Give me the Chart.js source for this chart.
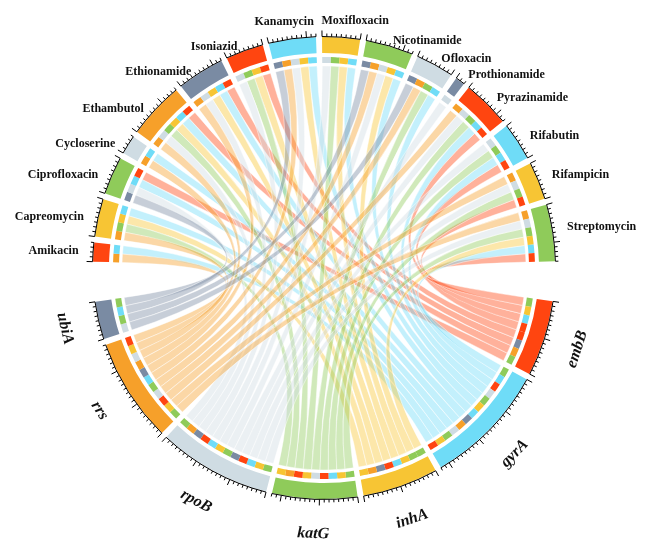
<!DOCTYPE html>
<html><head><meta charset="utf-8">
<script src="https://cdn.jsdelivr.net/npm/chart.js@4.4.1/dist/chart.umd.min.js"></script>
<style>html,body{margin:0;padding:0;background:#fff;}#wrap{width:651px;height:560px;}</style>
</head><body><div id="wrap"><canvas id="c" width="651" height="560"></canvas></div>
<script>
// ---- data ----
const genes = ['embB','gyrA','inhA','katG','rpoB','rrs','ubiA'];           // clockwise order
const geneColors = ['#FF4510','#6FDCF7','#F7C534','#8FCB5A','#CFDCE3','#F6A02A','#7A8BA3'];
const drugs = ['Amikacin','Capreomycin','Ciprofloxacin','Cycloserine','Ethambutol','Ethionamide',
  'Isoniazid','Kanamycin','Moxifloxacin','Nicotinamide','Ofloxacin','Prothionamide',
  'Pyrazinamide','Rifabutin','Rifampicin','Streptomycin'];
const drugColors = ['#FF4510','#F7C534','#8FCB5A','#CFDCE3','#F6A02A','#7A8BA3','#FF4510','#6FDCF7',
  '#F7C534','#8FCB5A','#CFDCE3','#7A8BA3','#FF4510','#6FDCF7','#F7C534','#8FCB5A'];
// drugs linked to each gene (each link has value 1)
const geneLinks = {
  embB: ['Ciprofloxacin','Ethambutol','Ethionamide','Isoniazid','Pyrazinamide','Rifabutin','Rifampicin','Streptomycin'],
  gyrA: ['Amikacin','Capreomycin','Ciprofloxacin','Cycloserine','Ethambutol','Ethionamide','Kanamycin','Moxifloxacin','Nicotinamide','Ofloxacin','Pyrazinamide','Rifabutin','Streptomycin'],
  inhA: ['Capreomycin','Ethambutol','Ethionamide','Isoniazid','Kanamycin','Moxifloxacin','Nicotinamide','Streptomycin'],
  katG: ['Capreomycin','Ethambutol','Isoniazid','Moxifloxacin','Ofloxacin','Pyrazinamide','Rifabutin','Rifampicin','Streptomycin'],
  rpoB: ['Ciprofloxacin','Ethambutol','Ethionamide','Isoniazid','Kanamycin','Moxifloxacin','Nicotinamide','Prothionamide','Pyrazinamide','Rifabutin','Rifampicin','Streptomycin'],
  rrs:  ['Amikacin','Capreomycin','Cycloserine','Ethambutol','Ethionamide','Kanamycin','Nicotinamide','Ofloxacin','Pyrazinamide','Rifampicin','Streptomycin'],
  ubiA: ['Ciprofloxacin','Kanamycin','Nicotinamide','Ofloxacin']
};
const linkValue = 1;

// ---- layout constants ----
const SMALL_GAP = 0.63, BIG_GAP = 4.2;
const MAJOR_STEP = 4, MINOR_STEP = 0.5;

// ---- build sectors ----
const sectors = genes.map((g,i)=>({name:g,color:geneColors[i],gene:true}))
  .concat(drugs.map((d,i)=>({name:d,color:drugColors[i],gene:false})));
const idx = {}; sectors.forEach((s,i)=>idx[s.name]=i);
const pairs = [];
genes.forEach(g=>geneLinks[g].forEach(d=>pairs.push({g,d,v:linkValue})));
sectors.forEach((s,k)=>{
  s.links = pairs.filter(p=>s.gene? p.g===s.name : p.d===s.name)
    .map(p=>({p, partner: s.gene? p.d : p.g}))
    .sort((a,b)=>idx[b.partner]-idx[a.partner]);
  s.total = s.links.reduce((a,l)=>a+l.p.v,0);
});
const blockData=[], blockCol=[], tileData=[], tileCol=[];
const T='rgba(0,0,0,0)';
sectors.forEach((s,k)=>{
  s.blockIndex = blockData.length;
  blockData.push(s.total); blockCol.push(s.color);
  s.links.forEach(l=>{
    if(s.gene) l.p.gTile = tileData.length; else l.p.dTile = tileData.length;
    tileData.push(l.p.v); tileCol.push(sectors[idx[l.partner]].color);
  });
  const gap = (s.name==='ubiA'||s.name==='Streptomycin')?BIG_GAP:SMALL_GAP;
  blockData.push(gap); blockCol.push(T); tileData.push(gap); tileCol.push(T);
});

function hexA(h,a){const n=parseInt(h.slice(1),16);return `rgba(${n>>16},${(n>>8)&255},${n&255},${a})`;}

const chordPlugin = {
  id:'chord',
  afterDatasetsDraw(chart){
    const ctx = chart.ctx;
    const bm = chart.getDatasetMeta(0), tm = chart.getDatasetMeta(2);
    const a0 = tm.data[0]; const cx=a0.x, cy=a0.y;
    const rL = tm.controller.innerRadius - 3;
    const P = a=>[cx+rL*Math.cos(a), cy+rL*Math.sin(a)];
    ctx.save();
    // ribbons
    genes.forEach((g,gi)=>{
      const gc = geneColors[gi];
      pairs.filter(p=>p.g===g).forEach(p=>{
        const A = tm.data[p.dTile], B = tm.data[p.gTile];
        ctx.beginPath();
        const s1=P(A.startAngle); ctx.moveTo(s1[0],s1[1]);
        ctx.arc(cx,cy,rL,A.startAngle,A.endAngle);
        const b1=P(B.startAngle); ctx.quadraticCurveTo(cx,cy,b1[0],b1[1]);
        ctx.arc(cx,cy,rL,B.startAngle,B.endAngle);
        ctx.quadraticCurveTo(cx,cy,s1[0],s1[1]);
        ctx.closePath();
        ctx.fillStyle = hexA(gc,0.42); ctx.fill();
        ctx.strokeStyle='rgba(255,255,255,0.75)'; ctx.lineWidth=0.6; ctx.stroke();
      });
    });
    // axes + ticks
    ctx.strokeStyle='#000'; ctx.lineWidth=1;
    sectors.forEach(s=>{
      const el = bm.data[s.blockIndex];
      const R = el.outerRadius + 0.5;
      ctx.beginPath(); ctx.arc(cx,cy,R,el.startAngle,el.endAngle); ctx.stroke();
      const per = (el.endAngle-el.startAngle)/s.total;
      const nT = Math.round(s.total/MINOR_STEP);
      for(let i=0;i<=nT;i++){
        const t=i*MINOR_STEP; if(t>s.total+1e-6) break;
        const major = Math.abs(t/MAJOR_STEP - Math.round(t/MAJOR_STEP))<1e-6;
        const a = el.startAngle + t*per, L = major?6:3;
        ctx.beginPath();
        ctx.moveTo(cx+R*Math.cos(a), cy+R*Math.sin(a));
        ctx.lineTo(cx+(R+L)*Math.cos(a), cy+(R+L)*Math.sin(a));
        ctx.stroke();
      }
    });
    // labels
    ctx.fillStyle='#111';
    sectors.forEach(s=>{
      const el = bm.data[s.blockIndex];
      const th = (el.startAngle+el.endAngle)/2;
      const c=Math.cos(th), sn=Math.sin(th);
      if(s.gene){
        ctx.save();
        ctx.font='italic bold 16px "Liberation Serif"';
        const R = el.outerRadius + 35;
        ctx.translate(cx+R*c, cy+R*sn);
        ctx.rotate(th - Math.PI/2);
        ctx.textAlign='center'; ctx.textBaseline='middle';
        ctx.fillText(s.name,0,0);
        ctx.restore();
      } else {
        ctx.font='bold 12px "Liberation Serif"';
        const R = el.outerRadius;
        const px=cx+R*c, py=cy+R*sn;
        ctx.textBaseline='middle';
        if(c < -0.2){ ctx.textAlign='right'; ctx.fillText(s.name, px+12*c-3, py-1-30*Math.max(0,c+0.45)); }
        else if(c > 0.2){ ctx.textAlign='left'; ctx.fillText(s.name, px+16*c-1, py-6); }
        else { ctx.textAlign='center'; ctx.fillText(s.name, px+104*c+6.3, py-17); }
      }
    });
    ctx.restore();
  }
};

new Chart(document.getElementById('c'),{
  type:'doughnut',
  data:{datasets:[
    {data:blockData, backgroundColor:blockCol, borderWidth:0, weight:16},
    {data:[1], backgroundColor:[T], borderWidth:0, weight:4},
    {data:tileData, backgroundColor:tileCol, borderWidth:0, weight:6}
  ]},
  options:{
    responsive:false, animation:false, events:[],
    rotation:98.3, cutout:205,
    layout:{padding:{left:93,right:96,top:37,bottom:61}},
    plugins:{legend:{display:false},tooltip:{enabled:false}}
  },
  plugins:[chordPlugin]
});
</script></body></html>
